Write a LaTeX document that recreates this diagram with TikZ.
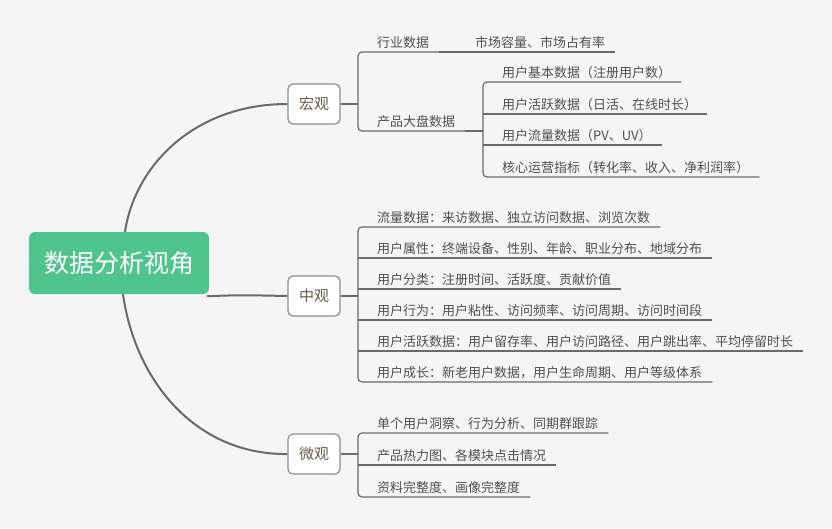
\documentclass[tikz,border=0pt]{standalone}
\usepackage{fontspec}
\setmainfont{Noto Sans CJK SC}
\usetikzlibrary{positioning}
\definecolor{bggray}{HTML}{F5F5F5}
\definecolor{rootgreen}{HTML}{50C48D}
\definecolor{linegray}{HTML}{6A6A6A}
\definecolor{boxgray}{HTML}{8E8E8E}
\definecolor{midtext}{HTML}{6E5A48}
\definecolor{leaftext}{HTML}{505050}

\begin{document}
\begin{tikzpicture}[
  x=1pt,y=-1pt,
  root/.style={fill=rootgreen,rounded corners=6pt,minimum width=180pt,minimum height=62pt,text=white,font=\fontsize{25}{30}\selectfont},
  mid/.style={draw=boxgray,fill=white,line width=1.2pt,rounded corners=5pt,minimum width=52pt,minimum height=40pt,text=midtext,font=\fontsize{15}{18}\selectfont},
  leaf/.style={anchor=south west,inner xsep=0pt,inner ysep=4.5pt,text depth=0pt,text=leaftext,font=\fontsize{13}{16}\selectfont,
    execute at begin node=\hspace*{19pt},execute at end node=\hspace*{10pt}},
  branch/.style={draw=linegray,line width=2pt},
  link/.style={draw=linegray,line width=1.2pt,rounded corners=4pt}
]
\fill[bggray] (0,0) rectangle (832,528);
\useasboundingbox (0,0) rectangle (832,528);

\node[root] (root) at (119,263) {数据分析视角};
\node[mid] (macro) at (314,104) {宏观};
\node[mid] (meso) at (314,296) {中观};
\node[mid] (micro) at (314,454) {微观};

\draw[branch] ([xshift=6pt]root.north) .. controls (135,165) and (195,104) .. (macro.west);
\draw[branch] ([shift={(-2pt,-2pt)}]root.south east) .. controls (240,295) .. (meso.west);
\draw[branch] ([xshift=4pt]root.south) .. controls (135,380) and (195,455) .. (micro.west);

% macro
\node[leaf] (hy) at (358,52) {行业数据};
\node[leaf] (mk) at (456,52) {市场容量、市场占有率};
\node[leaf] (prod) at (358,131) {产品大盘数据};
\node[leaf] (pb1) at (483,82) {用户基本数据（注册用户数）};
\node[leaf] (pb2) at (483,114) {用户活跃数据（日活、在线时长）};
\node[leaf] (pb3) at (483,145) {用户流量数据（PV、UV）};
\node[leaf] (pb4) at (483,177) {核心运营指标（转化率、收入、净利润率）};

\draw[link] (macro.east) -- (macro.east -| hy.south west);
\draw[link] (hy.south east) -- (hy.south west) -- (prod.south west) -- (prod.south east);
\draw[link] (hy.south east) -- (mk.south west) -- (mk.south east);
\draw[link] (prod.south east) -- (prod.south east -| pb1.south west);
\draw[link] (pb1.south east) -- (pb1.south west) -- (pb4.south west) -- (pb4.south east);
\foreach \n in {pb2,pb3} \draw[link] (\n.south west) -- (\n.south east);

% meso
\node[leaf] (m1) at (358,227) {流量数据：来访数据、独立访问数据、浏览次数};
\node[leaf] (m2) at (358,258) {用户属性：终端设备、性别、年龄、职业分布、地域分布};
\node[leaf] (m3) at (358,289) {用户分类：注册时间、活跃度、贡献价值};
\node[leaf] (m4) at (358,320) {用户行为：用户粘性、访问频率、访问周期、访问时间段};
\node[leaf] (m5) at (358,351) {用户活跃数据：用户留存率、用户访问路径、用户跳出率、平均停留时长};
\node[leaf] (m6) at (358,382) {用户成长：新老用户数据，用户生命周期、用户等级体系};

\draw[link] (meso.east) -- (meso.east -| m1.south west);
\draw[link] (m1.south east) -- (m1.south west) -- (m6.south west) -- (m6.south east);
\foreach \n in {m2,m3,m4,m5} \draw[link] (\n.south west) -- (\n.south east);

% micro
\node[leaf] (u1) at (358,433) {单个用户洞察、行为分析、同期群跟踪};
\node[leaf] (u2) at (358,465) {产品热力图、各模块点击情况};
\node[leaf] (u3) at (358,497) {资料完整度、画像完整度};

\draw[link] (micro.east) -- (micro.east -| u1.south west);
\draw[link] (u1.south east) -- (u1.south west) -- (u3.south west) -- (u3.south east);
\draw[link] (u2.south west) -- (u2.south east);
\end{tikzpicture}
\end{document}
